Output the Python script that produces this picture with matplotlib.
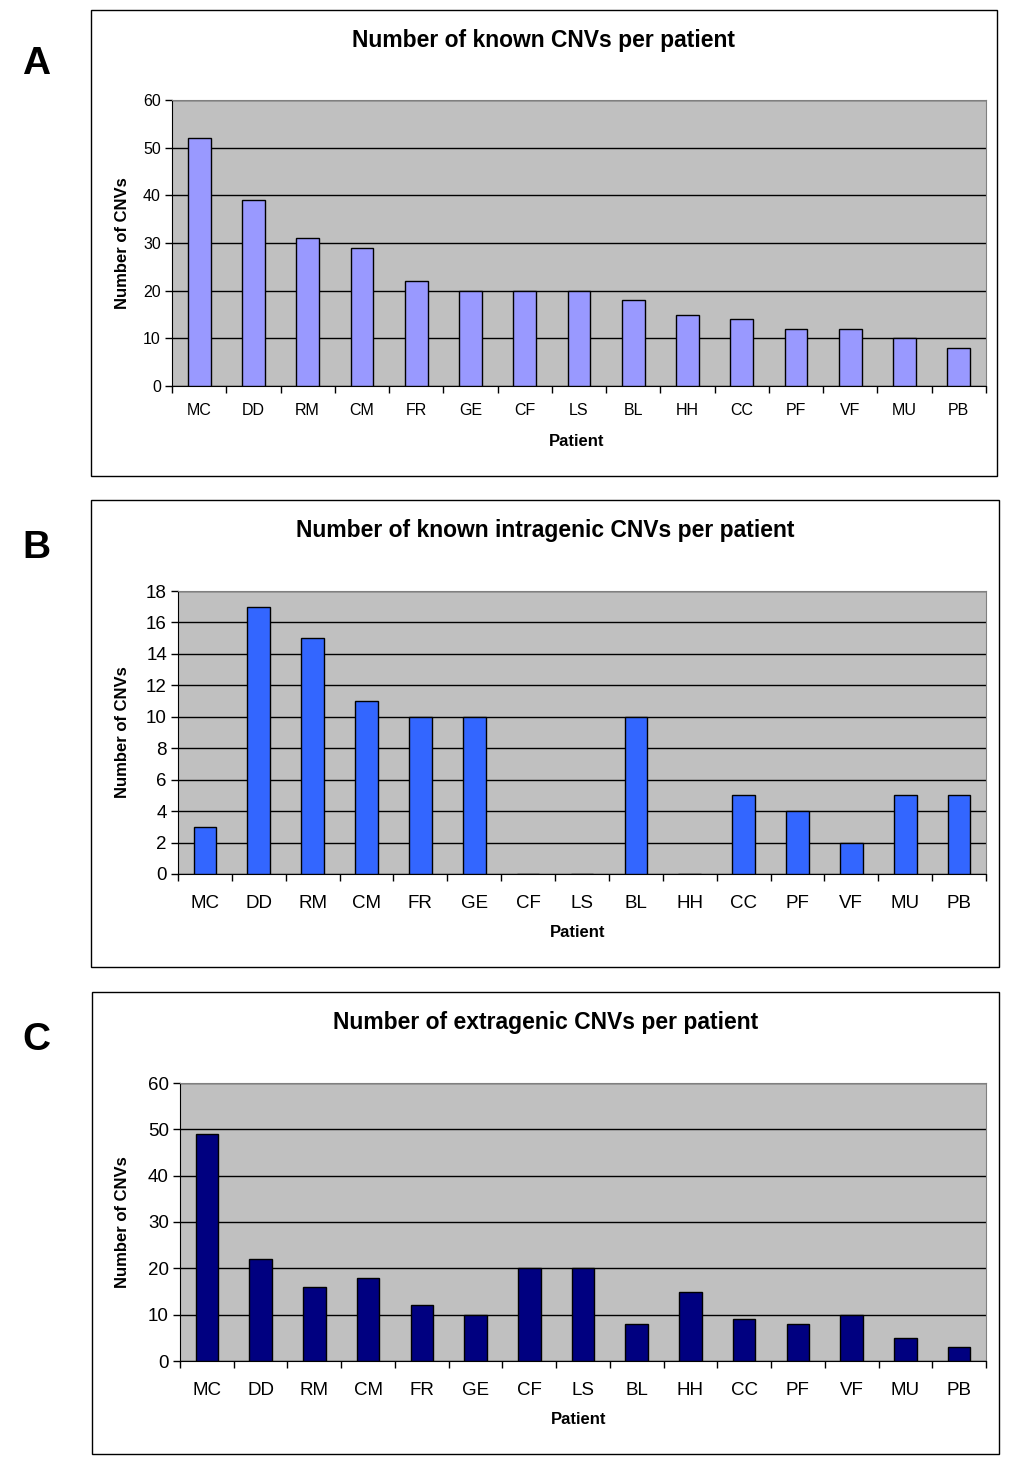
import numpy as np
import matplotlib
matplotlib.use("Agg")
import matplotlib.pyplot as plt
from matplotlib.patches import Rectangle

plt.rcParams["font.family"] = ["Liberation Sans", "DejaVu Sans"]

W, H = 1025, 1480

patients = ["MC", "DD", "RM", "CM", "FR", "GE", "CF", "LS", "BL", "HH", "CC", "PF", "VF", "MU", "PB"]
known_cnvs = [52, 39, 31, 29, 22, 20, 20, 20, 18, 15, 14, 12, 12, 10, 8]
intragenic_cnvs = [3, 17, 15, 11, 10, 10, 0, 0, 10, 0, 5, 4, 2, 5, 5]
extragenic_cnvs = [49, 22, 16, 18, 12, 10, 20, 20, 8, 15, 9, 8, 10, 5, 3]

titles = ["Number of known CNVs per patient",
          "Number of known intragenic CNVs per patient",
          "Number of extragenic CNVs per patient"]
letters = ["A", "B", "C"]
colors = ["#9999FF", "#3366FF", "#000080"]


def px_rect(x0, y0, x1, y1):
    return [x0 / W, 1 - y1 / H, (x1 - x0) / W, (y1 - y0) / H]


fig = plt.figure(figsize=(W / 100, H / 100), dpi=100)

# pixel layout: outer box, plot area, title y, letter y, x-label y, font sizes
panels = [
    dict(box=(91, 10, 997, 476), ax=(172, 100, 986, 386), ty=41, ly=64, xly=442,
         ymax=60, step=10, tick_fs=11.5, xpad=9),
    dict(box=(91, 500, 999, 967), ax=(178, 591, 986, 874), ty=531, ly=548, xly=933,
         ymax=18, step=2, tick_fs=13.5, xpad=12),
    dict(box=(92, 992, 999, 1454), ax=(180, 1083, 986, 1361), ty=1022, ly=1040, xly=1420,
         ymax=60, step=10, tick_fs=13.5, xpad=12),
]
data = [known_cnvs, intragenic_cnvs, extragenic_cnvs]

for p, vals, title, letter, col in zip(panels, data, titles, letters, colors):
    bx0, by0, bx1, by1 = p["box"]
    fig.patches.append(Rectangle((bx0 / W, 1 - by1 / H), (bx1 - bx0) / W, (by1 - by0) / H,
                                 transform=fig.transFigure, fill=False,
                                 edgecolor="black", linewidth=1))
    fig.text(36 / W, 1 - p["ly"] / H, letter, fontsize=28, fontweight="bold",
             ha="center", va="center")
    fig.text(((bx0 + bx1) / 2) / W, 1 - p["ty"] / H, title, fontsize=16.5,
             fontweight="bold", ha="center", va="center")

    ax = fig.add_axes(px_rect(*p["ax"]))
    ax.set_facecolor("#C0C0C0")
    x = np.arange(len(patients))
    ax.bar(x, vals, width=0.42, color=col, edgecolor="black", linewidth=1, zorder=3)
    ax.set_xlim(-0.5, len(patients) - 0.5)
    ax.set_ylim(0, p["ymax"])
    ax.set_yticks(np.arange(0, p["ymax"] + 1, p["step"]))
    ax.yaxis.grid(True, color="black", linewidth=1, zorder=0)
    ax.set_axisbelow(True)

    ax.set_xticks(x)
    ax.set_xticklabels(patients, fontsize=p["tick_fs"])
    ax.set_xticks(np.arange(-0.5, len(patients)), minor=True)
    ax.tick_params(axis="x", which="major", length=0, pad=p["xpad"] + 3)
    ax.tick_params(axis="x", which="minor", length=5, direction="out", width=1)
    ax.tick_params(axis="y", length=5, direction="out", width=1,
                   labelsize=p["tick_fs"], pad=3)

    for s in ["top", "right"]:
        ax.spines[s].set_color("#808080")
    for s in ["left", "bottom"]:
        ax.spines[s].set_color("black")

    ax.set_ylabel("Number of CNVs", fontsize=12, fontweight="bold")
    ax.set_xlabel("Patient", fontsize=12, fontweight="bold")
    ax0, ay0, ax1, ay1 = p["ax"]
    ax.yaxis.set_label_coords((130 - ax0) / (ax1 - ax0), 0.5)
    # x-label is top-aligned: put its top ~8 px above the wanted centre
    ax.xaxis.set_label_coords(((bx0 + bx1) / 2 + 33 - ax0) / (ax1 - ax0),
                              (ay1 - (p["xly"] - 8)) / (ay1 - ay0))

fig.savefig("out.png", dpi=100, facecolor="white")
